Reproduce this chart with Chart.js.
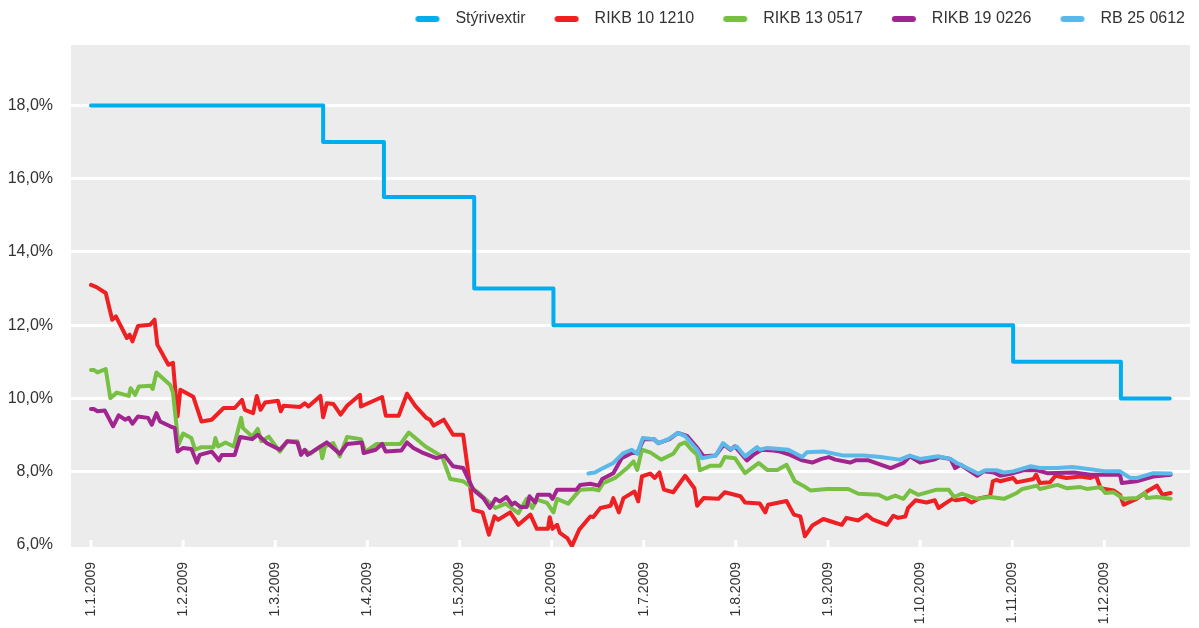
<!DOCTYPE html>
<html>
<head>
<meta charset="utf-8">
<script src="https://cdn.jsdelivr.net/npm/chart.js@4.4.1/dist/chart.umd.min.js"></script>
<style>
  html, body { margin: 0; padding: 0; background: #fff; }
</style>
</head>
<body>
<canvas id="myChart" width="1199" height="628"></canvas>
<script>
// x values are months since 1.1.2009 (ticks are evenly spaced per month)
const monthLabels = ["1.1.2009", "1.2.2009", "1.3.2009", "1.4.2009", "1.5.2009", "1.6.2009",
  "1.7.2009", "1.8.2009", "1.9.2009", "1.10.2009", "1.11.2009", "1.12.2009"];
const yTicks = [6, 8, 10, 12, 14, 16, 18];

const policyX = [0, 2.52, 3.18, 4.16, 5.02, 10.01, 11.18, 11.71];
const policyRate = [18, 17, 15.5, 13, 12, 11, 10, 10];

const rikb10 = [[0.00,13.10],[0.06,13.04],[0.16,12.88],[0.23,12.15],[0.27,12.24],[0.39,11.65],[0.42,11.74],[0.45,11.56],[0.51,11.98],[0.64,12.01],[0.69,12.15],[0.72,11.47],[0.84,10.92],[0.89,10.97],[0.94,9.51],[0.97,10.24],[1.11,10.05],[1.20,9.37],[1.31,9.42],[1.44,9.74],[1.56,9.74],[1.64,9.96],[1.67,9.69],[1.76,9.60],[1.80,10.07],[1.84,9.69],[1.89,9.89],[2.03,9.94],[2.06,9.65],[2.09,9.80],[2.27,9.77],[2.32,9.87],[2.36,9.78],[2.49,10.07],[2.52,9.49],[2.56,9.87],[2.63,9.85],[2.71,9.56],[2.78,9.80],[2.92,10.10],[2.93,9.78],[3.16,10.04],[3.20,9.53],[3.34,9.53],[3.43,10.13],[3.52,9.80],[3.64,9.47],[3.68,9.42],[3.72,9.26],[3.83,9.42],[3.93,9.01],[4.04,9.01],[4.15,6.96],[4.25,6.89],[4.32,6.28],[4.38,6.78],[4.42,6.69],[4.55,6.89],[4.64,6.55],[4.77,6.83],[4.84,6.44],[4.96,6.44],[4.98,6.76],[5.01,6.44],[5.06,6.55],[5.09,6.33],[5.17,6.19],[5.22,5.97],[5.30,6.42],[5.42,6.78],[5.45,6.76],[5.53,7.01],[5.64,7.07],[5.67,7.28],[5.73,6.89],[5.78,7.28],[5.90,7.46],[5.94,7.19],[5.98,7.87],[6.07,7.95],[6.12,7.83],[6.17,7.98],[6.22,7.51],[6.32,7.44],[6.45,7.89],[6.55,7.55],[6.58,7.07],[6.65,7.28],[6.81,7.26],[6.88,7.44],[7.05,7.33],[7.10,7.16],[7.26,7.13],[7.32,6.89],[7.35,7.10],[7.55,7.20],[7.63,6.83],[7.70,6.78],[7.75,6.24],[7.83,6.53],[7.95,6.71],[8.06,6.62],[8.15,6.55],[8.20,6.74],[8.33,6.67],[8.42,6.83],[8.49,6.69],[8.64,6.55],[8.71,6.80],[8.76,6.74],[8.84,6.78],[8.87,7.01],[8.95,7.22],[9.07,7.16],[9.16,7.22],[9.20,7.01],[9.27,7.13],[9.35,7.26],[9.39,7.22],[9.49,7.26],[9.56,7.16],[9.65,7.28],[9.76,7.33],[9.79,7.74],[9.83,7.78],[9.87,7.74],[10.01,7.83],[10.05,7.71],[10.23,7.80],[10.26,7.92],[10.30,7.69],[10.41,7.71],[10.47,7.89],[10.59,7.83],[10.74,7.87],[10.85,7.83],[10.91,7.89],[10.96,7.55],[11.10,7.49],[11.17,7.37],[11.21,7.10],[11.35,7.26],[11.46,7.46],[11.57,7.62],[11.63,7.37],[11.72,7.42]];

const rikb13 = [[0.00,10.78],[0.03,10.78],[0.07,10.71],[0.16,10.80],[0.21,10.01],[0.28,10.16],[0.41,10.07],[0.43,10.28],[0.48,10.10],[0.52,10.33],[0.65,10.35],[0.67,10.26],[0.71,10.71],[0.86,10.37],[0.89,10.15],[0.95,8.74],[1.00,9.04],[1.09,8.92],[1.13,8.60],[1.20,8.67],[1.33,8.67],[1.35,8.92],[1.38,8.69],[1.46,8.80],[1.55,8.69],[1.63,9.47],[1.65,9.19],[1.75,8.96],[1.81,9.17],[1.85,8.83],[1.93,8.96],[2.05,8.55],[2.13,8.83],[2.24,8.83],[2.28,8.51],[2.33,8.58],[2.38,8.49],[2.49,8.69],[2.51,8.37],[2.54,8.69],[2.63,8.78],[2.70,8.42],[2.78,8.95],[2.93,8.89],[2.98,8.55],[3.10,8.76],[3.36,8.76],[3.45,9.07],[3.63,8.69],[3.81,8.42],[3.90,7.80],[4.04,7.74],[4.19,7.46],[4.39,7.01],[4.50,7.13],[4.64,6.87],[4.73,7.26],[4.79,7.01],[4.84,7.24],[4.95,7.15],[5.02,6.89],[5.06,7.26],[5.18,7.13],[5.31,7.51],[5.45,7.53],[5.51,7.49],[5.56,7.69],[5.69,7.83],[5.82,8.10],[5.89,8.28],[5.93,8.05],[5.98,8.60],[6.07,8.53],[6.19,8.33],[6.32,8.49],[6.39,8.74],[6.45,8.80],[6.52,8.60],[6.58,8.46],[6.61,8.04],[6.72,8.16],[6.83,8.16],[6.88,8.40],[6.99,8.37],[7.10,7.96],[7.25,8.24],[7.34,8.05],[7.45,8.05],[7.55,8.19],[7.64,7.74],[7.73,7.62],[7.81,7.49],[7.99,7.53],[8.22,7.53],[8.33,7.40],[8.55,7.37],[8.64,7.26],[8.73,7.35],[8.82,7.26],[8.89,7.49],[8.98,7.37],[9.18,7.51],[9.31,7.51],[9.37,7.31],[9.45,7.40],[9.62,7.26],[9.76,7.31],[9.91,7.26],[10.05,7.42],[10.11,7.53],[10.27,7.62],[10.30,7.53],[10.49,7.64],[10.59,7.55],[10.74,7.58],[10.81,7.53],[10.96,7.58],[11.01,7.42],[11.10,7.44],[11.21,7.26],[11.35,7.28],[11.44,7.42],[11.46,7.28],[11.57,7.31],[11.72,7.26]];

const rikb19 = [[0.00,9.71],[0.03,9.71],[0.07,9.65],[0.15,9.67],[0.24,9.24],[0.30,9.54],[0.37,9.42],[0.41,9.47],[0.45,9.31],[0.51,9.51],[0.62,9.47],[0.66,9.28],[0.71,9.60],[0.75,9.37],[0.86,9.24],[0.91,9.19],[0.94,8.55],[1.00,8.65],[1.09,8.62],[1.15,8.25],[1.18,8.46],[1.31,8.55],[1.39,8.31],[1.42,8.46],[1.56,8.46],[1.62,8.95],[1.75,8.89],[1.81,9.01],[1.91,8.78],[2.05,8.60],[2.13,8.83],[2.24,8.80],[2.28,8.46],[2.32,8.60],[2.35,8.46],[2.56,8.80],[2.70,8.49],[2.78,8.76],[2.94,8.80],[2.96,8.51],[3.09,8.60],[3.16,8.76],[3.20,8.55],[3.37,8.58],[3.43,8.80],[3.50,8.65],[3.59,8.53],[3.75,8.37],[3.84,8.44],[3.93,8.15],[4.04,8.10],[4.15,7.51],[4.26,7.28],[4.33,7.01],[4.39,7.26],[4.44,7.19],[4.51,7.31],[4.57,7.10],[4.60,7.16],[4.66,7.04],[4.73,7.04],[4.76,7.33],[4.82,7.16],[4.85,7.37],[4.98,7.37],[5.01,7.26],[5.06,7.51],[5.27,7.51],[5.31,7.64],[5.42,7.67],[5.51,7.62],[5.55,7.80],[5.67,7.96],[5.76,8.37],[5.87,8.51],[5.93,8.51],[6.00,8.89],[6.11,8.89],[6.16,8.78],[6.28,8.89],[6.37,9.06],[6.47,8.98],[6.57,8.69],[6.65,8.42],[6.78,8.44],[6.87,8.74],[6.94,8.60],[6.99,8.69],[7.12,8.31],[7.19,8.46],[7.28,8.60],[7.41,8.58],[7.48,8.55],[7.59,8.46],[7.72,8.31],[7.83,8.25],[7.93,8.35],[8.01,8.40],[8.08,8.33],[8.24,8.25],[8.30,8.31],[8.44,8.31],[8.68,8.10],[8.82,8.24],[8.89,8.42],[9.00,8.25],[9.15,8.33],[9.21,8.40],[9.33,8.35],[9.38,8.10],[9.44,8.19],[9.62,7.89],[9.69,8.01],[9.80,7.98],[9.87,7.89],[10.01,7.96],[10.12,8.04],[10.27,8.04],[10.38,7.96],[10.67,7.98],[10.85,7.92],[11.17,7.92],[11.19,7.69],[11.35,7.74],[11.53,7.87],[11.72,7.92]];

const rb25 = [[5.40,7.95],[5.47,7.98],[5.56,8.10],[5.67,8.24],[5.78,8.51],[5.87,8.60],[5.93,8.49],[5.99,8.92],[6.11,8.89],[6.16,8.78],[6.27,8.89],[6.37,9.06],[6.45,8.97],[6.58,8.60],[6.63,8.37],[6.78,8.44],[6.86,8.78],[6.94,8.62],[7.01,8.69],[7.10,8.42],[7.23,8.67],[7.26,8.60],[7.34,8.65],[7.48,8.62],[7.57,8.60],[7.72,8.40],[7.77,8.53],[7.95,8.55],[8.17,8.44],[8.39,8.44],[8.57,8.40],[8.78,8.33],[8.89,8.44],[9.00,8.35],[9.20,8.42],[9.33,8.35],[9.40,8.24],[9.63,7.95],[9.71,8.04],[9.83,8.04],[9.91,7.98],[10.01,8.01],[10.20,8.15],[10.30,8.10],[10.49,8.10],[10.65,8.13],[10.85,8.07],[11.01,8.01],[11.17,8.01],[11.28,7.83],[11.36,7.83],[11.53,7.96],[11.72,7.95]];

const seriesNames = ["Stýrivextir", "RIKB 10 1210", "RIKB 13 0517", "RIKB 19 0226", "RB 25 0612"];
const seriesColors = ["#00aeef", "#ee2024", "#78c043", "#a2248e", "#5bb9e9"];

Chart.defaults.font.family = "'Liberation Sans', Arial, sans-serif";
Chart.defaults.color = "#333";

// legend glyph: rounded bar with blank space on its left for item spacing
function legendMarker(color) {
  const c = document.createElement("canvas");
  c.width = 56;
  c.height = 8;
  const g = c.getContext("2d");
  g.strokeStyle = color;
  g.lineWidth = 6;
  g.lineCap = "round";
  g.beginPath();
  g.moveTo(27, 4);
  g.lineTo(45, 4);
  g.stroke();
  return c;
}

const plotBg = {
  id: "plotBg",
  beforeDraw(chart) {
    const { ctx, chartArea: a } = chart;
    ctx.save();
    ctx.fillStyle = "#ececec";
    ctx.fillRect(a.left, a.top, a.width, a.height);
    ctx.restore();
  },
};

const monthMarks = {
  id: "monthMarks",
  beforeDatasetsDraw(chart) {
    const { ctx, chartArea: a, scales } = chart;
    ctx.save();
    ctx.strokeStyle = "#fff";
    ctx.lineWidth = 3;
    scales.x.ticks.forEach((t) => {
      const px = scales.x.getPixelForValue(t.value);
      ctx.beginPath();
      ctx.moveTo(px, a.bottom - 7);
      ctx.lineTo(px, a.bottom);
      ctx.stroke();
    });
    ctx.restore();
  },
};

const legendMargin = {
  id: "legendMargin",
  beforeInit(chart) {
    const fit = chart.legend.fit;
    chart.legend.fit = function () {
      fit.bind(chart.legend)();
      this.height += 8;
    };
  },
};

const lineData = [
  policyX.map((x, i) => ({ x, y: policyRate[i] })),
  rikb10.map(([x, y]) => ({ x, y })),
  rikb13.map(([x, y]) => ({ x, y })),
  rikb19.map(([x, y]) => ({ x, y })),
  rb25.map(([x, y]) => ({ x, y })),
];

const datasets = seriesNames.map((name, i) => ({
  label: name,
  data: lineData[i],
  borderColor: seriesColors[i],
  backgroundColor: seriesColors[i],
  borderWidth: 4,
  borderJoinStyle: "round",
  borderCapStyle: "round",
  pointRadius: 0,
  pointHoverRadius: 0,
  pointStyle: legendMarker(seriesColors[i]),
  stepped: i === 0,
  fill: false,
  order: 5 - i,
}));

const ctx = document.querySelector("#myChart").getContext("2d");
new Chart(ctx, {
  type: "line",
  data: { datasets },
  plugins: [plotBg, monthMarks, legendMargin],
  options: {
    responsive: false,
    animation: false,
    layout: { padding: { top: 6, right: 9, left: 0, bottom: 0 } },
    plugins: {
      tooltip: { enabled: false },
      legend: {
        position: "top",
        align: "end",
        labels: {
          usePointStyle: true,
          pointStyleWidth: 56,
          padding: 5,
          font: { size: 16 },
          color: "#333",
          sort: (a, b) => a.datasetIndex - b.datasetIndex,
        },
      },
    },
    scales: {
      x: {
        type: "linear",
        min: -0.217,
        max: 11.93,
        afterBuildTicks: (s) => {
          s.ticks = monthLabels.map((_, i) => ({ value: i }));
        },
        ticks: {
          callback: (v) => monthLabels[v],
          autoSkip: false,
          minRotation: 90,
          maxRotation: 90,
          padding: 7,
          font: { size: 14 },
          color: "#333",
        },
        grid: { display: false },
        border: { display: false },
        afterFit: (s) => {
          s.height = 81;
        },
      },
      y: {
        min: 5.945,
        max: 19.65,
        afterBuildTicks: (s) => {
          s.ticks = yTicks.map((v) => ({ value: v }));
        },
        ticks: {
          callback: (v) => v.toFixed(1).replace(".", ",") + "%",
          padding: 18,
          font: { size: 16 },
          color: "#333",
        },
        grid: {
          color: (c) => (c.tick && c.tick.value === 6 ? "rgba(0,0,0,0)" : "#ffffff"),
          lineWidth: 3,
          drawTicks: false,
        },
        border: { display: false },
        afterFit: (s) => {
          s.width = 71;
        },
      },
    },
  },
});
</script>
</body>
</html>
